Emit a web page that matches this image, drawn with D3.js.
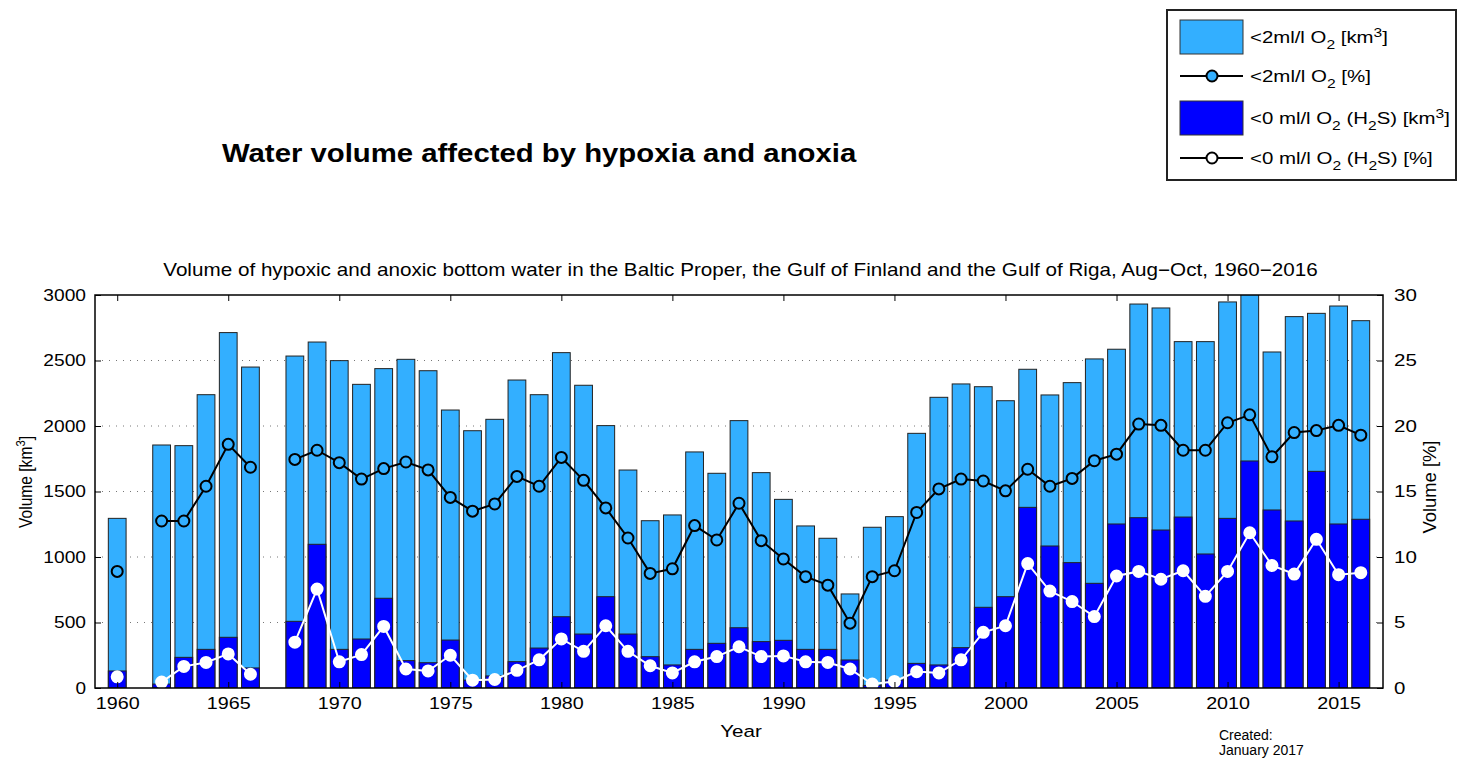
<!DOCTYPE html>
<html>
<head>
<meta charset="utf-8">
<script src="https://cdn.jsdelivr.net/npm/d3@7"></script>
<style>
  body { margin: 0; background: #fff; }
  svg text { font-family: "Liberation Sans", Arial, Helvetica, sans-serif; fill: #000; }
</style>
</head>
<body>
<svg id="chart" width="1467" height="760"></svg>
<script>
"use strict";

// years with data (1961 and 1967 missing)
const years = [1960, 1962, 1963, 1964, 1965, 1966, 1968, 1969, 1970, 1971, 1972, 1973, 1974,
  1975, 1976, 1977, 1978, 1979, 1980, 1981, 1982, 1983, 1984, 1985, 1986, 1987, 1988, 1989,
  1990, 1991, 1992, 1993, 1994, 1995, 1996, 1997, 1998, 1999, 2000, 2001, 2002, 2003, 2004,
  2005, 2006, 2007, 2008, 2009, 2010, 2011, 2012, 2013, 2014, 2015, 2016];

// <2 ml/l O2 volume [km3]
const hypoxicKm3 = [1295, 1855, 1850, 2239, 2713, 2450, 2534, 2641, 2499, 2318, 2438, 2509, 2422,
  2122, 1964, 2051, 2351, 2239, 2560, 2311, 2003, 1664, 1277, 1321, 1802, 1639, 2041, 1644,
  1440, 1237, 1143, 718, 1227, 1308, 1944, 2219, 2321, 2300, 2193, 2433, 2237, 2331, 2512,
  2586, 2931, 2901, 2644, 2644, 2947, 3010, 2565, 2835, 2860, 2916, 2804];

// <0 ml/l O2 (H2S) volume [km3]
const anoxicKm3 = [130, 30, 234, 295, 387, 153, 509, 1097, 295, 374, 685, 209, 193,
  366, 60, 92, 201, 305, 544, 412, 697, 412, 239, 176, 295, 341, 460, 354,
  364, 295, 295, 214, 20, 61, 188, 176, 308, 616, 697, 1379, 1084, 957, 799,
  1252, 1300, 1206, 1305, 1023, 1295, 1733, 1359, 1275, 1654, 1252, 1288];

// <2 ml/l O2 share [%]
const hypoxicPct = [8.9, 12.75, 12.75, 15.4, 18.6, 16.85, 17.45, 18.15, 17.2, 15.95, 16.75, 17.25, 16.65,
  14.55, 13.5, 14.05, 16.15, 15.4, 17.6, 15.85, 13.75, 11.45, 8.75, 9.1, 12.4, 11.3, 14.1, 11.25,
  9.85, 8.5, 7.85, 4.95, 8.5, 8.95, 13.4, 15.2, 15.95, 15.8, 15.05, 16.7, 15.4, 16.0, 17.35,
  17.85, 20.15, 20.05, 18.15, 18.15, 20.25, 20.85, 17.65, 19.5, 19.65, 20.05, 19.3];

// <0 ml/l O2 (H2S) share [%]
const anoxicPct = [0.85, 0.45, 1.65, 1.95, 2.6, 1.05, 3.5, 7.55, 2.0, 2.55, 4.7, 1.45, 1.3,
  2.5, 0.6, 0.65, 1.35, 2.15, 3.75, 2.8, 4.75, 2.8, 1.7, 1.15, 2.0, 2.4, 3.15, 2.4,
  2.45, 2.0, 1.95, 1.45, 0.3, 0.5, 1.25, 1.15, 2.15, 4.25, 4.75, 9.5, 7.4, 6.6, 5.45,
  8.55, 8.9, 8.3, 8.95, 7.0, 8.9, 11.85, 9.35, 8.7, 11.35, 8.65, 8.8];

const volTicks = [0, 500, 1000, 1500, 2000, 2500, 3000];
const pctTicks = [0, 5, 10, 15, 20, 25, 30];
const yearTicks = [1960, 1965, 1970, 1975, 1980, 1985, 1990, 1995, 2000, 2005, 2010, 2015];

const lightBlue = '#33afff';
const darkBlue = '#0000ff';

const svg = d3.select('#chart');
const pLeft = 95, pRight = 1383, pTop = 295, pBottom = 688;

const x = d3.scaleLinear().domain([1959, 2017]).range([pLeft, pRight]);
const yVol = d3.scaleLinear().domain([0, 3000]).range([pBottom, pTop]);
const yPct = d3.scaleLinear().domain([0, 30]).range([pBottom, pTop]);
const barW = (x(1) - x(0)) * 0.8;

const rows = years.map(function (yr, i) {
  return { year: yr, hyp: hypoxicKm3[i], an: anoxicKm3[i], hypP: hypoxicPct[i], anP: anoxicPct[i] };
});

// squeeze / stretch a text horizontally around its anchor so it covers the given width
function fitText(sel, target) {
  sel.each(function () {
    const w = this.getBBox().width;
    if (!w) return;
    const ax = +this.getAttribute('x') || 0;
    const s = (typeof target === 'function' ? target(this) : target) / w;
    d3.select(this).attr('transform', 'translate(' + ax + ',0) scale(' + s + ',1) translate(' + (-ax) + ',0)');
  });
}

// clip for plot area
svg.append('clipPath').attr('id', 'plot-clip')
  .append('rect').attr('x', pLeft).attr('y', pTop).attr('width', pRight - pLeft).attr('height', pBottom - pTop);

// grid
svg.append('g').selectAll('line').data(volTicks.slice(1, -1)).enter().append('line')
  .attr('x1', pLeft).attr('x2', pRight)
  .attr('y1', d => yVol(d)).attr('y2', d => yVol(d))
  .attr('stroke', '#777').attr('stroke-width', 1).attr('stroke-dasharray', '1,6');

const plot = svg.append('g').attr('clip-path', 'url(#plot-clip)');

plot.selectAll('rect.hyp').data(rows).enter().append('rect')
  .attr('class', 'hyp')
  .attr('x', d => x(d.year) - barW / 2)
  .attr('y', d => yVol(d.hyp))
  .attr('width', barW)
  .attr('height', d => yVol(0) - yVol(d.hyp))
  .attr('fill', lightBlue).attr('stroke', '#222').attr('stroke-width', 1);

plot.selectAll('rect.an').data(rows).enter().append('rect')
  .attr('class', 'an')
  .attr('x', d => x(d.year) - barW / 2)
  .attr('y', d => yVol(d.an))
  .attr('width', barW)
  .attr('height', d => yVol(0) - yVol(d.an))
  .attr('fill', darkBlue).attr('stroke', '#222').attr('stroke-width', 1);

// lines are broken where years are missing
function segments() {
  const segs = [];
  let cur = [];
  rows.forEach(function (d, i) {
    if (i > 0 && d.year - rows[i - 1].year > 1) { segs.push(cur); cur = []; }
    cur.push(d);
  });
  segs.push(cur);
  return segs;
}

function drawSeries(key, lineColor, dotFill, dotStroke) {
  const line = d3.line().x(d => x(d.year)).y(d => yPct(d[key]));
  plot.append('g').selectAll('path').data(segments()).enter().append('path')
    .attr('d', line).attr('fill', 'none').attr('stroke', lineColor).attr('stroke-width', 2);
  plot.append('g').selectAll('circle').data(rows).enter().append('circle')
    .attr('cx', d => x(d.year)).attr('cy', d => yPct(d[key])).attr('r', 5.5)
    .attr('fill', dotFill).attr('stroke', dotStroke).attr('stroke-width', 2);
}
drawSeries('hypP', '#000', lightBlue, '#000');
drawSeries('anP', '#fff', '#fff', '#fff');

// frame
svg.append('rect').attr('x', pLeft).attr('y', pTop).attr('width', pRight - pLeft).attr('height', pBottom - pTop)
  .attr('fill', 'none').attr('stroke', '#000').attr('stroke-width', 1.5);

// axes (ticks pointing inward, MATLAB style)
const axL = svg.append('g').attr('transform', 'translate(' + pLeft + ',0)')
  .call(d3.axisLeft(yVol).tickValues(volTicks).tickFormat(d3.format('d')).tickSize(-6).tickPadding(9));
const axR = svg.append('g').attr('transform', 'translate(' + pRight + ',0)')
  .call(d3.axisRight(yPct).tickValues(pctTicks).tickSize(-6).tickPadding(11));
const axB = svg.append('g').attr('transform', 'translate(0,' + pBottom + ')')
  .call(d3.axisBottom(x).tickValues(yearTicks).tickFormat(d3.format('d')).tickSize(-6).tickPadding(10));
const axT = svg.append('g').attr('transform', 'translate(0,' + pTop + ')')
  .call(d3.axisTop(x).tickValues(yearTicks).tickFormat('').tickSize(-6));
[axL, axR, axB, axT].forEach(function (a) {
  a.select('.domain').remove();
  a.selectAll('line').attr('stroke', '#000');
  a.selectAll('text').style('font-size', '16px').style('font-family', '"Liberation Sans", Arial, sans-serif');
});
fitText(axL.selectAll('text'), n => n.textContent.length * 10.7);
fitText(axR.selectAll('text'), n => n.textContent.length * 11.5);
fitText(axB.selectAll('text'), 44);

// axis labels
const xl = svg.append('text').attr('x', 741).attr('y', 737).attr('text-anchor', 'middle')
  .style('font-size', '17px').text('Year');
fitText(xl, 42);

const ylg = svg.append('g').attr('transform', 'translate(32,482) rotate(-90)');
const yl = ylg.append('text').attr('x', 0).attr('y', 0).attr('text-anchor', 'middle').style('font-size', '18px');
yl.append('tspan').text('Volume [km');
yl.append('tspan').attr('dy', -7).style('font-size', '13px').text('3');
yl.append('tspan').attr('dy', 7).text(']');
fitText(yl, 92);

const yrg = svg.append('g').attr('transform', 'translate(1436,487) rotate(-90)');
const yr = yrg.append('text').attr('x', 0).attr('y', 0).attr('text-anchor', 'middle')
  .style('font-size', '18px').text('Volume [%]');
fitText(yr, 93);

// titles
const subTitle = svg.append('text').attr('x', 740.5).attr('y', 276).attr('text-anchor', 'middle')
  .style('font-size', '18px')
  .text('Volume of hypoxic and anoxic bottom water in the Baltic Proper, the Gulf of Finland and the Gulf of Riga, Aug\u2212Oct, 1960\u22122016');
fitText(subTitle, 1155);

const mainTitle = svg.append('text').attr('x', 222).attr('y', 162)
  .style('font-size', '26px').style('font-weight', 'bold')
  .text('Water volume affected by hypoxia and anoxia');
fitText(mainTitle, 635);

svg.append('text').attr('x', 1219).attr('y', 740).style('font-size', '14px').text('Created:');
svg.append('text').attr('x', 1219).attr('y', 755).style('font-size', '14px').text('January 2017');

// legend
const lg = svg.append('g');
lg.append('rect').attr('x', 1167).attr('y', 10).attr('width', 289).attr('height', 170)
  .attr('fill', '#fff').attr('stroke', '#222').attr('stroke-width', 2);

const legendItems = [
  { kind: 'rect', color: lightBlue, y: 37, w: 138, parts: [['<2ml/l O', 0], ['2', 1], [' [km', 0], ['3', -1], [']', 0]] },
  { kind: 'dot', color: lightBlue, y: 76, w: 121, parts: [['<2ml/l O', 0], ['2', 1], [' [%]', 0]] },
  { kind: 'rect', color: darkBlue, y: 118, w: 200, parts: [['<0 ml/l O', 0], ['2', 1], [' (H', 0], ['2', 1], ['S) [km', 0], ['3', -1], [']', 0]] },
  { kind: 'dot', color: '#fff', y: 158, w: 183, parts: [['<0 ml/l O', 0], ['2', 1], [' (H', 0], ['2', 1], ['S) [%]', 0]] }
];

legendItems.forEach(function (it) {
  if (it.kind === 'rect') {
    lg.append('rect').attr('x', 1180).attr('y', it.y - 17).attr('width', 63).attr('height', 34)
      .attr('fill', it.color).attr('stroke', '#333').attr('stroke-width', 1);
  } else {
    lg.append('line').attr('x1', 1180).attr('x2', 1243).attr('y1', it.y).attr('y2', it.y)
      .attr('stroke', '#000').attr('stroke-width', 2);
    lg.append('circle').attr('cx', 1212).attr('cy', it.y).attr('r', 5.5)
      .attr('fill', it.color).attr('stroke', '#000').attr('stroke-width', 2);
  }
  const t = lg.append('text').attr('x', 1250).attr('y', it.y + 6);
  let shift = 0;
  it.parts.forEach(function (p) {
    const want = p[1] * 6;
    t.append('tspan').attr('dy', want - shift).text(p[0])
      .style('font-size', p[1] === 0 ? '17px' : '13px');
    shift = want;
  });
  fitText(t, it.w);
});
</script>
</body>
</html>
